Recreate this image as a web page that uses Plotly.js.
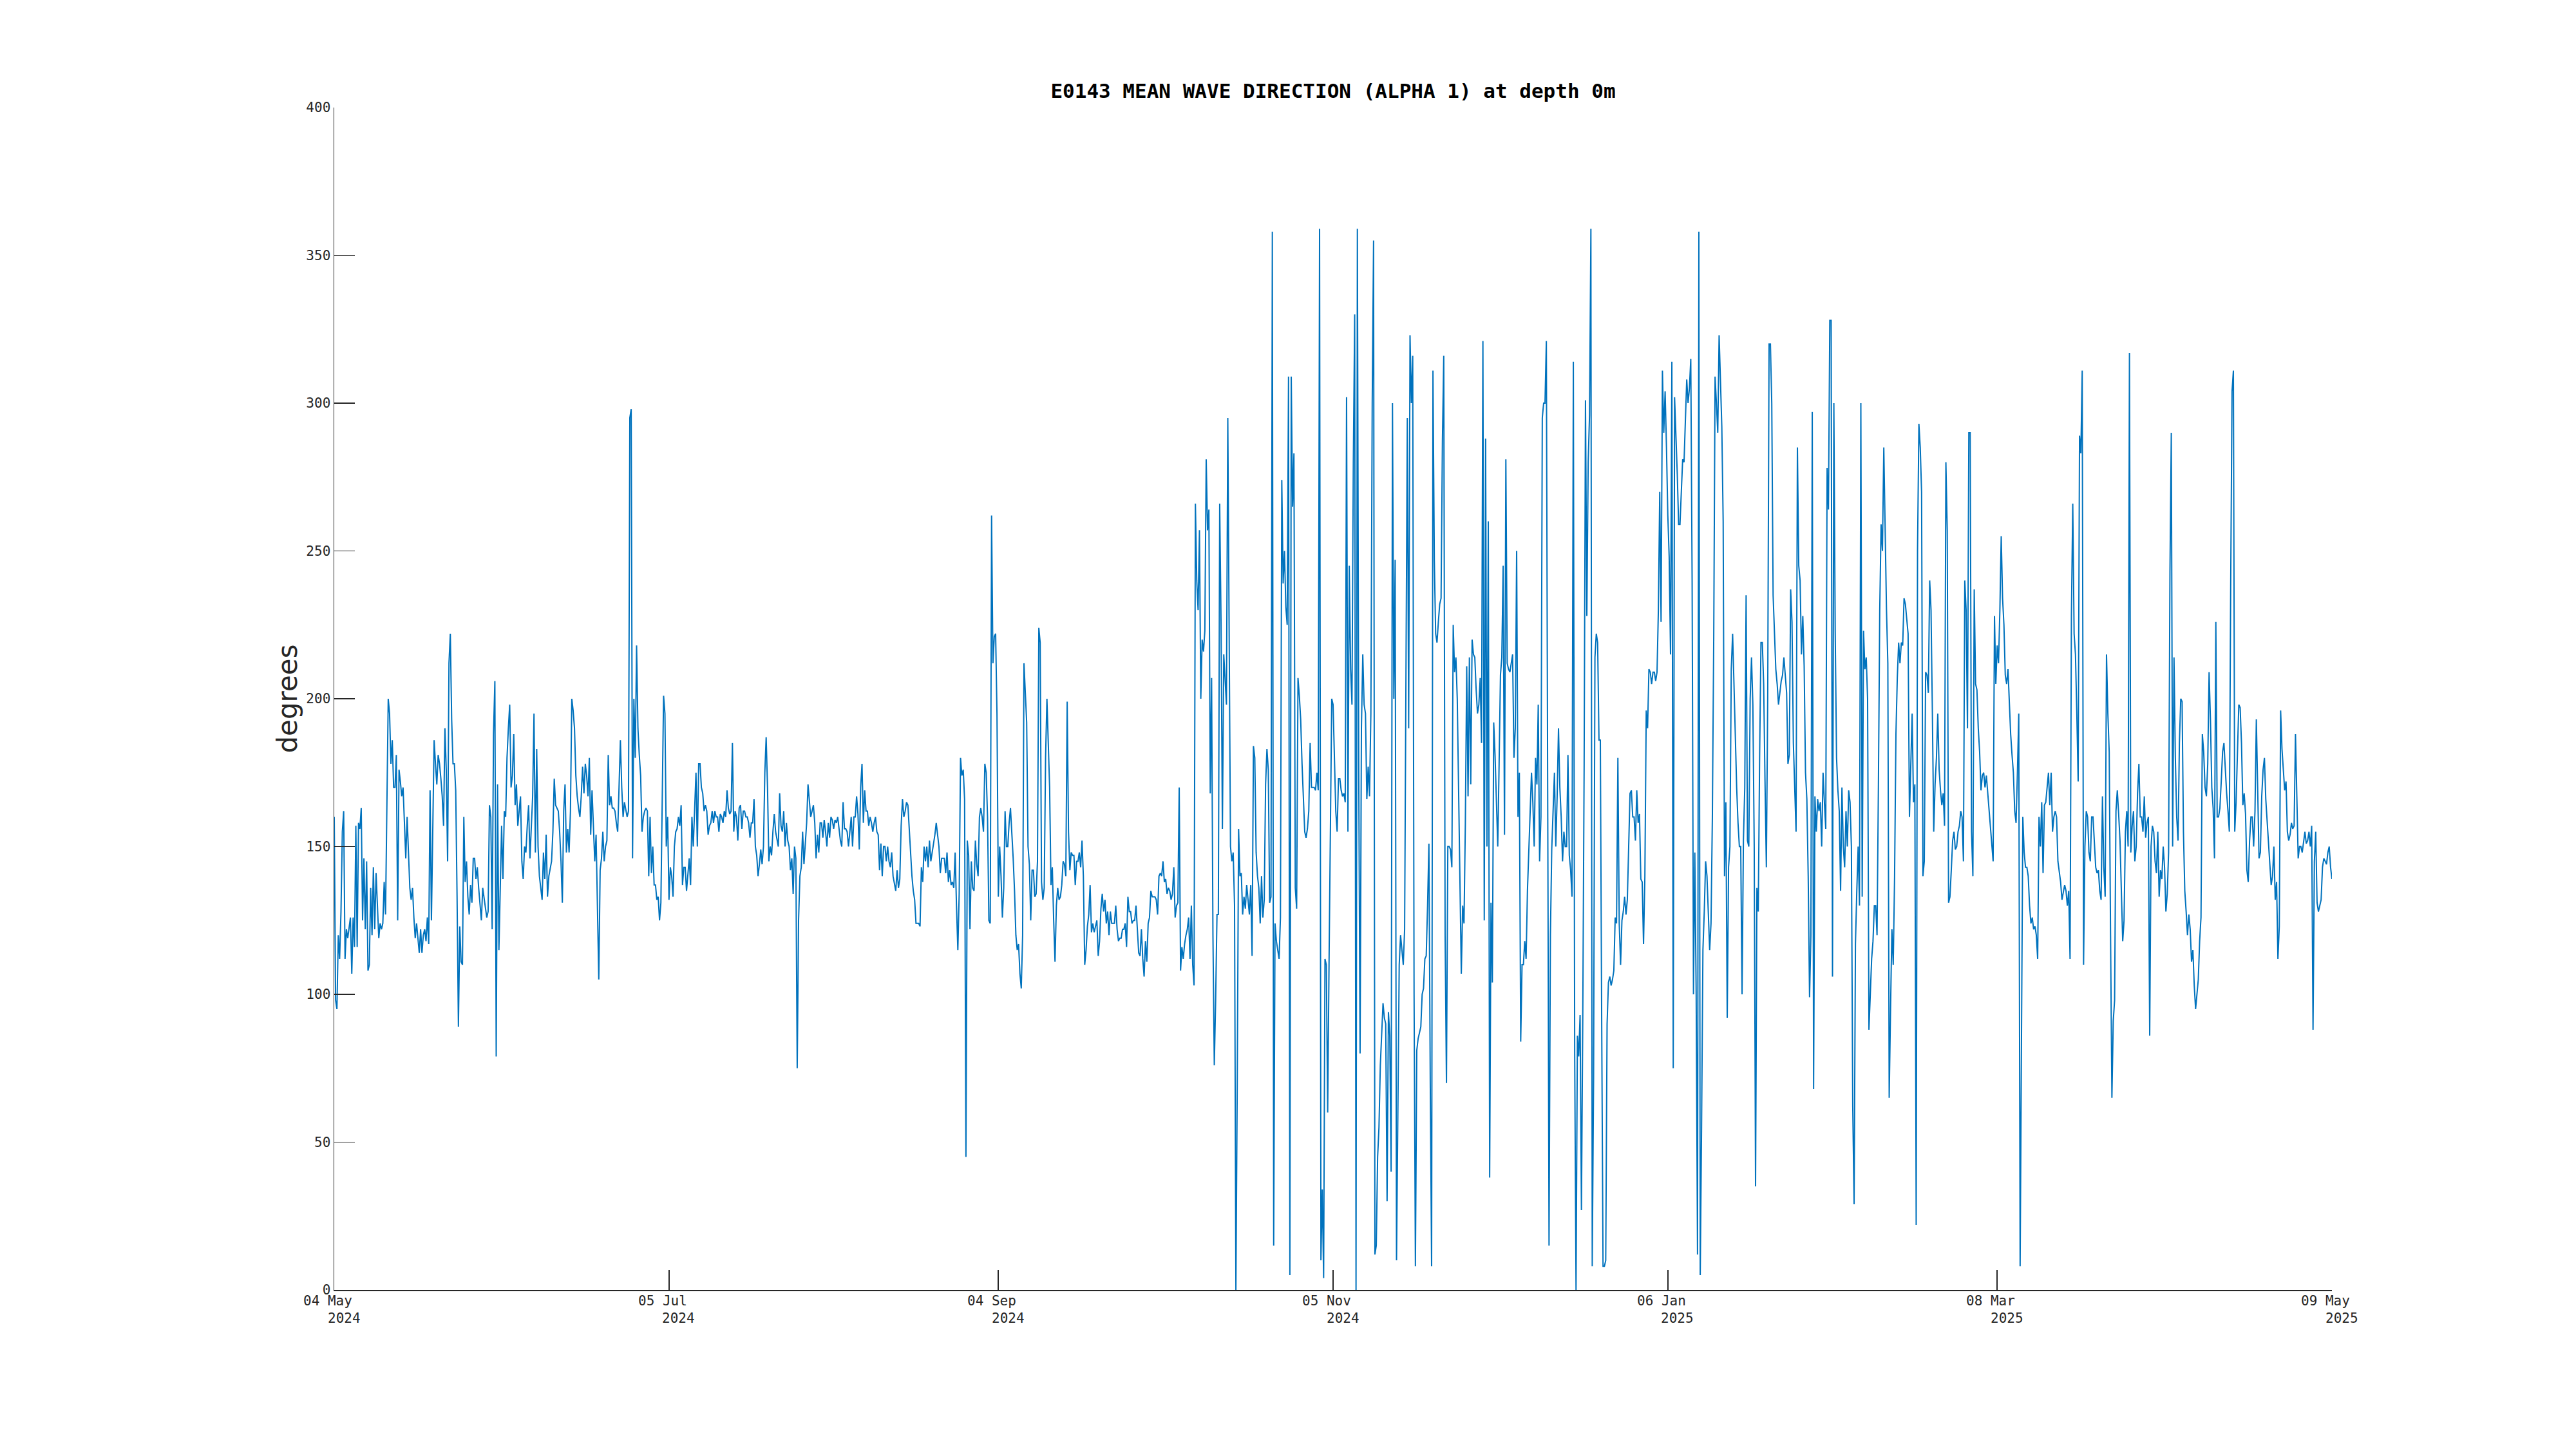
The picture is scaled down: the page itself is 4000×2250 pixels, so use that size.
<!DOCTYPE html>
<html>
<head>
<meta charset="utf-8">
<script src="https://cdn.plot.ly/plotly-3.0.1.min.js"></script>
<style>html,body{margin:0;padding:0;background:#fff;}#chart{width:4000px;height:2250px;}</style>
</head>
<body>
<div id="chart"></div>
<script>
// Sampling grid of the series (values every 6 hours)
const seriesStart = '2024-05-04';
const stepHours = 6;

// Mean wave direction (degrees), one row = one day (4 samples)
const segMayJul = [
160,98,95,120, 112,128,155,162, 112,122,119,122, 126,107,126,116, 157,116,158,156,
163,125,146,122, 145,108,110,136, 120,143,122,141, 128,119,124,122, 124,138,127,165,
200,195,178,186, 170,170,181,125, 176,172,167,170, 157,146,160,148, 136,132,136,126,
119,124,119,114, 122,114,120,122, 118,126,117,169, 125,157,186,178, 171,181,178,173,
167,157,190,176, 145,212,222,193, 178,178,169,133, 89,123,111,110, 160,138,145,133,
127,137,131,146, 146,139,143,136, 130,125,136,133, 130,126,128,164, 160,122,188,206,
79,171,115,133, 157,139,162,160, 180,190,198,170, 174,188,164,171, 157,162,167,145,
139,150,148,157, 164,146,155,167, 195,148,183,150, 140,136,132,148, 139,154,133,140,
143,145,155,173, 164,163,162,155, 145,131,162,171, 148,156,148,162, 200,196,190,174,
167,163,160,167, 177,168,178,174, 167,180,154,169, 156,145,154,125, 105,142,146,155,
145,150,152,181, 164,167,163,163, 162,158,155,170, 186,170,160,165, 162,160,162,295,
298,146,200,180, 218,190,181,174, 155,160,162,163, 162,140,160,141, 150,137,137,132,
133,125,131,170, 201,195,150,160
];
const segJulSep = [
132,143,140,133, 150,155,156,160, 157,164,137,143, 143,135,141,146, 137,160,150,164,
175,150,178,178, 170,168,162,164, 162,154,157,158, 162,158,162,160, 160,155,161,160,
158,162,160,169, 163,161,162,185, 155,162,160,152, 163,164,156,162, 162,160,160,158,
153,158,158,166, 150,147,140,144, 149,144,150,175, 187,170,145,150, 147,155,161,155,
152,150,168,157, 155,162,150,158, 152,150,142,146, 134,150,146,75, 125,140,143,155,
144,152,158,171, 165,160,162,164, 158,146,154,148, 158,158,153,159, 155,150,158,153,
160,159,156,159, 158,160,156,152, 150,165,156,156, 155,150,155,160, 150,160,160,167,
161,149,170,178, 158,169,162,162, 157,160,158,155, 158,160,155,154, 142,151,140,150,
150,145,150,145, 143,148,140,137, 135,142,136,139, 157,166,160,162, 165,164,155,149,
140,135,132,124, 124,124,123,143, 138,150,145,150, 143,152,145,148, 150,154,158,154,
150,141,146,146, 146,141,148,138, 142,137,138,136, 148,130,115,134, 180,174,176,166,
45,152,147,122, 145,136,135,152, 144,140,160,163, 160,155,178,175, 160,125,124,262,
212,221,222,195
];
const segSepNov = [
133,150,140,126, 136,162,150,150, 158,163,155,146, 135,120,115,117, 107,102,120,212,
202,192,150,144, 125,142,142,133, 134,145,224,219, 138,132,136,180, 200,185,170,137,
143,125,111,130, 136,132,133,137, 145,144,140,199, 155,142,148,147, 147,137,145,145,
148,143,152,140, 110,115,123,127, 137,121,124,121, 123,125,113,118, 129,134,128,132,
124,128,120,128, 124,124,124,130, 122,118,119,119, 122,122,124,116, 133,128,128,124,
125,125,130,122, 114,113,122,112, 106,118,111,124, 126,135,133,133, 133,132,127,140,
141,140,145,138, 139,134,136,135, 132,134,143,126, 130,131,170,108, 116,112,117,120,
122,126,112,130, 110,103,266,240, 230,257,200,220, 216,223,281,257, 264,168,207,120,
76,98,127,127, 266,226,156,215, 205,198,295,230, 150,145,148,130, 0,70,156,140,
141,127,133,129, 137,132,127,137, 113,184,180,148, 140,136,124,140, 126,132,171,183,
176,131,133,358, 15,124,118,115, 112,126,274,239, 250,231,225,309, 5,309,265,283,
136,129,207,201, 193,178,165,155, 153,156,162,185, 170,170,170,169, 175,169,359,10,
34,4,112,110, 60,110,150,200
];
const segNovJan = [
198,178,162,155, 173,173,169,167, 168,165,302,155, 245,210,198,280, 330,0,359,178,
80,190,215,198, 195,166,177,167, 195,300,355,12, 15,45,55,76, 85,97,92,90,
30,94,86,40, 300,200,247,10, 60,110,120,115, 110,122,200,295, 190,323,300,316,
100,8,81,85, 87,89,100,102, 112,113,130,151, 70,8,311,247, 222,219,226,232,
234,287,316,120, 70,150,150,149, 143,225,209,214, 200,172,135,107, 130,124,158,211,
167,214,171,220, 215,214,203,195, 198,207,185,321, 125,288,150,260, 38,131,104,192,
181,165,150,178, 208,214,245,154, 281,212,210,209, 212,215,180,190, 250,160,175,84,
110,110,118,112, 135,150,160,175, 165,150,180,171, 198,145,160,295, 300,300,321,140,
15,120,149,162, 175,150,167,190, 170,160,145,155, 150,150,181,147, 142,133,314,80,
0,86,79,93, 27,93,178,301, 228,280,296,359, 8,72,214,222, 219,186,186,91,
8,8,10,90, 104,106,103,105, 108,126,124,180, 124,110,125,128, 133,127,132,150,
168,169,160,160, 152,169,158,161, 139,138,117,140, 196,190,210,209, 205,209,209,206,
209,230,270,226, 311,290,304,285
];
const segJanMar = [
262,248,215,314, 75,302,290,276, 259,259,270,281, 280,294,308,300, 305,315,240,100,
148,100,12,358, 5,55,115,128, 145,140,127,115, 124,160,220,309, 300,290,323,308,
292,260,140,165, 92,143,150,210, 222,205,186,170, 158,150,150,100, 152,170,235,152,
150,200,214,198, 150,35,136,128, 180,219,219,205, 172,143,200,320, 320,300,235,221,
210,205,198,202, 206,208,214,208, 202,178,181,237, 226,185,169,155, 285,245,240,215,
228,211,175,166, 140,99,120,297, 68,167,155,166, 162,165,150,175, 165,156,278,264,
328,328,106,300, 223,180,169,162, 135,170,150,143, 162,150,169,165, 150,62,29,117,
135,150,130,300, 133,223,210,214, 200,88,100,112, 118,130,130,120, 170,230,259,250,
285,255,230,212, 65,95,122,110, 140,188,207,219, 212,219,218,234, 232,227,222,160,
180,195,165,171, 22,250,293,285, 270,140,145,209, 208,202,240,230, 195,155,171,180,
195,176,169,164, 168,157,280,257, 131,133,142,152, 155,149,150,155, 157,162,160,145,
240,230,190,290, 290,155,140,237, 205,203,190,182, 169,174,175,170, 174,168,162,157,
151,145,228,205
];
const segMarMay = [
218,212,230,255, 234,225,208,205, 210,198,188,181, 175,162,158,175, 195,8,100,160,
148,143,143,140, 130,124,126,122, 123,120,112,160, 150,165,141,164, 165,170,175,164,
175,155,160,162, 160,145,142,138, 132,135,137,135, 130,135,112,228, 266,222,215,195,
172,289,283,311, 110,150,162,160, 148,145,160,160, 150,143,141,142, 135,132,167,143,
133,215,195,182, 120,65,91,98, 162,169,161,152, 135,118,125,155, 162,150,317,148,
157,162,145,150, 168,178,160,160, 155,167,153,158, 160,86,150,157, 155,145,141,155,
133,142,139,150, 143,128,134,148, 243,290,150,214, 180,160,152,185, 200,199,155,135,
128,120,127,122, 111,115,103,95, 100,105,118,126, 188,182,170,167, 178,209,193,170,
163,146,226,160, 160,163,172,182, 185,175,168,162, 155,238,304,311, 155,165,180,198,
197,185,164,168, 161,142,138,152, 160,160,150,162, 193,170,146,148, 167,176,180,166,
158,150,144,137, 140,150,132,138, 112,123,196,183, 175,169,172,155, 152,154,158,156,
157,188,167,146, 150,150,148,152, 155,151,152,155, 150,157,88,145, 155,131,128,130,
132,143,146,145, 144,148,150,143, 139
];

// Axis ticks
const xTickDates = ['2024-05-04','2024-07-05','2024-09-04','2024-11-05','2025-01-06','2025-03-08','2025-05-09'];
const xTickDayLabels = ['04 May','05 Jul','04 Sep','05 Nov','06 Jan','08 Mar','09 May'];
const xTickYearLabels = ['2024','2024','2024','2024','2025','2025','2025'];
const yTickValues = [0,50,100,150,200,250,300,350,400];

const direction = [].concat(segMayJul, segJulSep, segSepNov, segNovJan, segJanMar, segMarMay);
const startMs = Date.parse(seriesStart + 'T00:00:00Z');
function fmt(ms){ return new Date(ms).toISOString().slice(0,19).replace('T',' '); }
const times = direction.map((_, i) => fmt(startMs + i * stepHours * 3600000));

const axisColor = '#262626';
const tickFont = {family:'DejaVu Sans Mono', size:21, color:axisColor};

const annotations = [];
xTickDates.forEach((d, i) => {
  annotations.push({x:d, xref:'x', y:0, yref:'paper', yanchor:'middle', xanchor:'center',
    yshift:-17, xshift:-10, text:xTickDayLabels[i], showarrow:false, font:tickFont});
  annotations.push({x:d, xref:'x', y:0, yref:'paper', yanchor:'middle', xanchor:'center',
    yshift:-44, xshift:15, text:xTickYearLabels[i], showarrow:false, font:tickFont});
});

const trace = {
  x: times, y: direction, type:'scatter', mode:'lines',
  line:{color:'#0072BD', width:2}, hoverinfo:'skip'
};

const layout = {
  width:4000, height:2250,
  margin:{l:519, r:379, t:167, b:247, pad:0},
  paper_bgcolor:'#ffffff', plot_bgcolor:'#ffffff',
  showlegend:false,
  title:{text:'<b>E0143 MEAN WAVE DIRECTION (ALPHA 1) at depth 0m</b>',
    font:{family:'DejaVu Sans Mono', size:31, color:'#000000'},
    x:0.5, xref:'paper', xanchor:'center', y:1-141.6/2250, yref:'container', yanchor:'middle'},
  xaxis:{type:'date', range:[xTickDates[0], xTickDates[xTickDates.length-1]],
    tickmode:'array', tickvals:xTickDates, showticklabels:false,
    ticks:'inside', ticklen:31, tickwidth:1.5, tickcolor:axisColor,
    showline:true, linecolor:axisColor, linewidth:1.5, showgrid:false, zeroline:false, mirror:false},
  yaxis:{range:[0,400], tickmode:'array', tickvals:yTickValues,
    ticks:'inside', ticklen:32, tickwidth:1.5, tickcolor:axisColor, tickfont:tickFont,
    showline:true, linecolor:axisColor, linewidth:1.5, showgrid:false, zeroline:false, mirror:false,
    title:{text:'degrees', font:{family:'DejaVu Sans', size:42, color:axisColor}, standoff:0}},
  annotations: annotations
};

Plotly.newPlot('chart', [trace], layout, {staticPlot:true, displayModeBar:false});
</script>
</body>
</html>
